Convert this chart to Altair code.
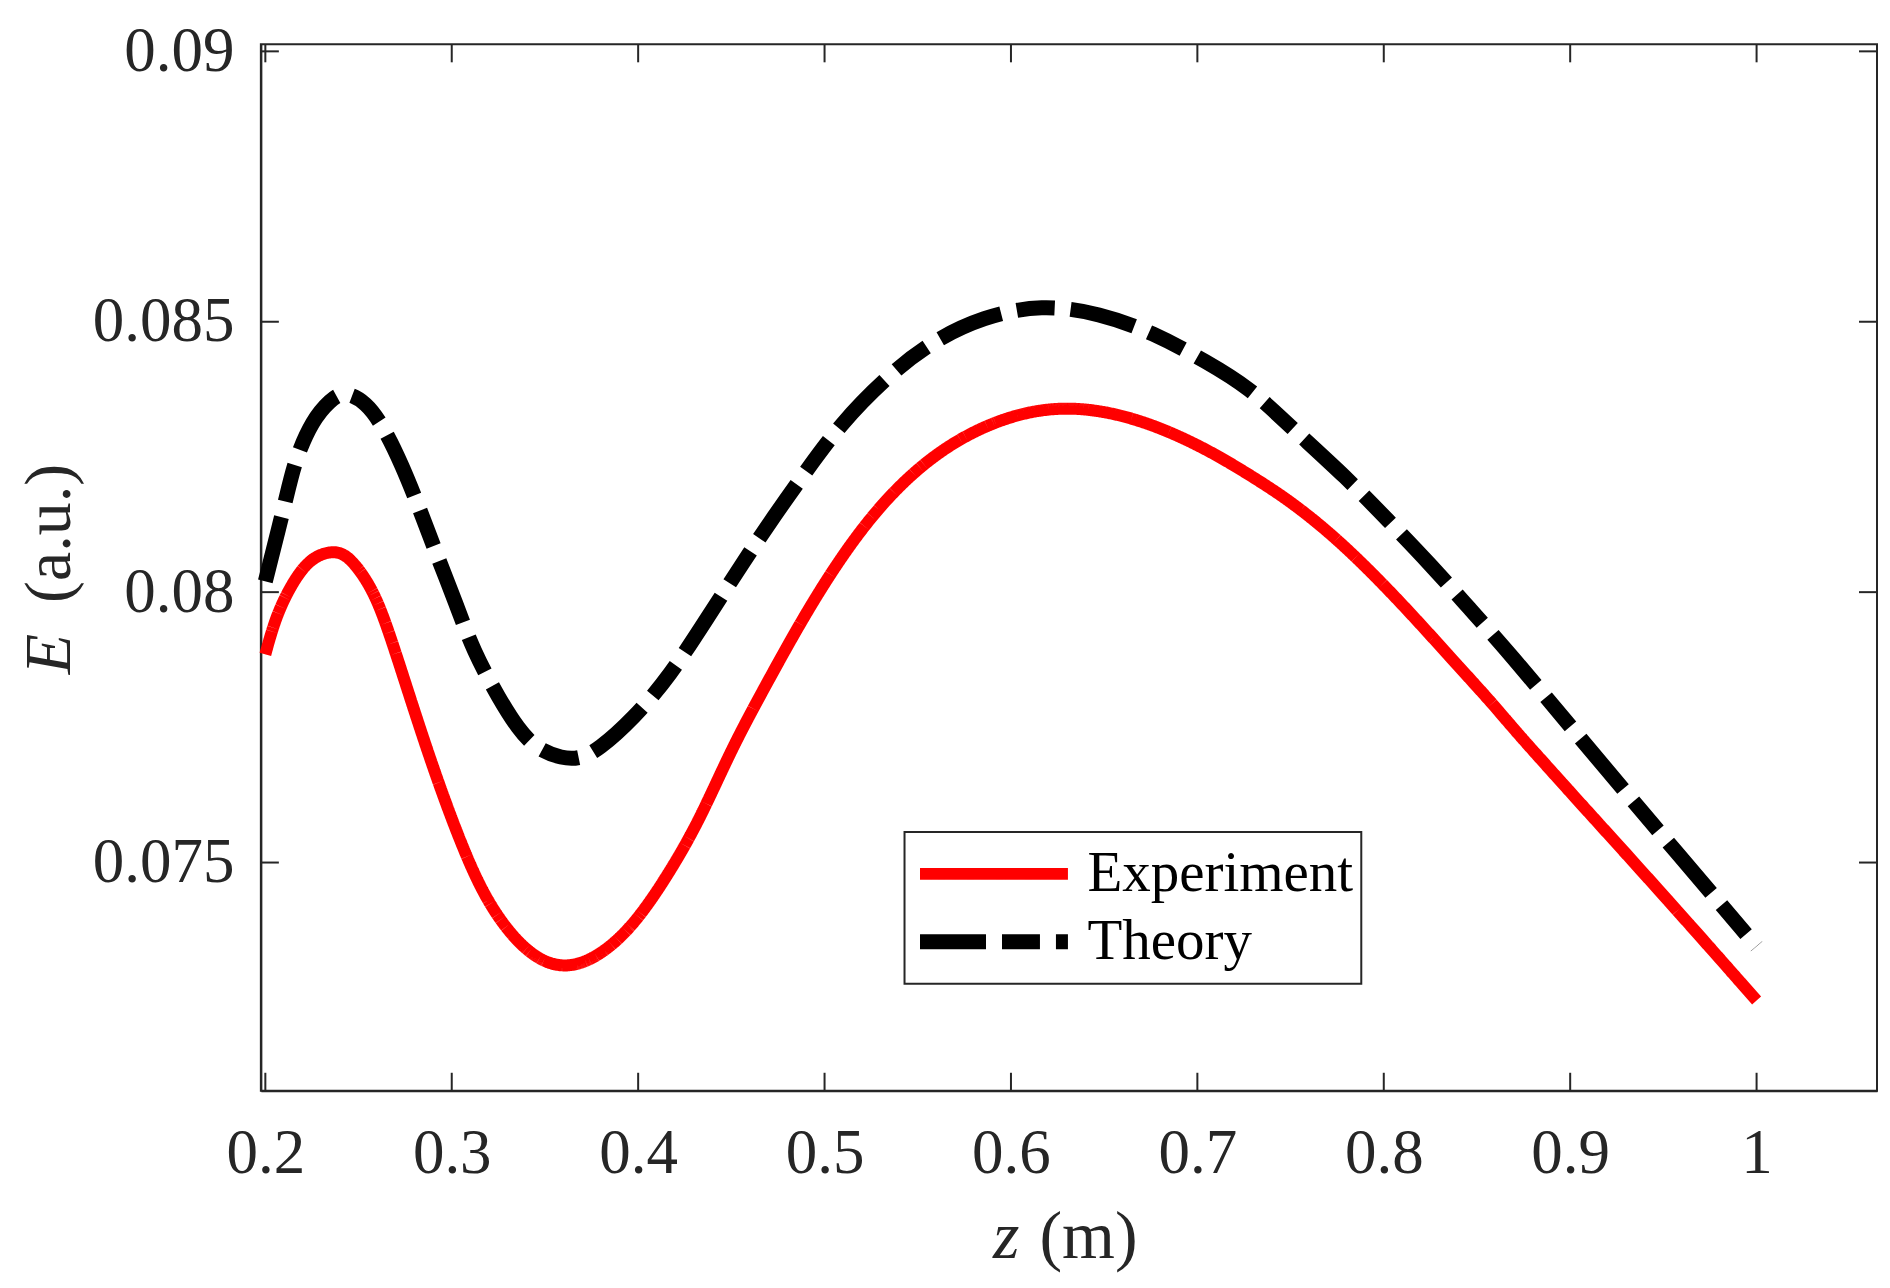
import altair as alt
import pandas as pd

# values
series_names = ["Experiment", "Theory"]

exp_z = [0.200, 0.206, 0.216, 0.225, 0.235, 0.242, 0.249, 0.259, 0.2685, 0.2876,
         0.3067, 0.3211, 0.3403, 0.3594, 0.3785, 0.3977, 0.4168, 0.4332, 0.450, 0.468,
         0.4873, 0.5088, 0.5327, 0.5614, 0.595, 0.6297, 0.6668, 0.7027, 0.7313, 0.7499,
         0.7718, 0.7937, 0.8155, 0.8374, 0.8594, 0.8693, 0.9082, 0.9514, 1.0]
exp_e = [0.07885, 0.07960, 0.08027, 0.08064, 0.08076, 0.08072, 0.08049, 0.07997, 0.07905, 0.07696,
         0.07517, 0.07413, 0.07331, 0.07301, 0.07324, 0.07383, 0.07481, 0.07580, 0.07710, 0.07825,
         0.07946, 0.08066, 0.08174, 0.08264, 0.08324, 0.08347, 0.08324, 0.08270, 0.08210, 0.08168,
         0.08108, 0.08036, 0.07957, 0.07873, 0.07790, 0.07748, 0.07599, 0.07435, 0.07245]

th_z = [0.200, 0.211, 0.2158, 0.2254, 0.2348, 0.2421, 0.254, 0.2637, 0.2732, 0.2828,
        0.2924, 0.302, 0.3114, 0.3259, 0.3355, 0.345, 0.3594, 0.3688, 0.3785, 0.3977,
        0.417, 0.4369, 0.4561, 0.4728, 0.4897, 0.5088, 0.5327, 0.5565, 0.5854, 0.6165,
        0.6476, 0.6763, 0.705, 0.728, 0.7499, 0.7806, 0.8025, 0.8243, 0.8462, 0.868,
        0.901, 0.941, 1.0]
th_e = [0.0802, 0.0817, 0.08244, 0.08319, 0.08355, 0.08372, 0.08352, 0.08304, 0.08236, 0.08154,
        0.08065, 0.07982, 0.07892, 0.07800, 0.07748, 0.07711, 0.07692, 0.07692, 0.07708, 0.07767,
        0.07845, 0.07951, 0.08054, 0.08140, 0.08222, 0.08312, 0.08396, 0.08462, 0.0851, 0.08532,
        0.08516, 0.0848, 0.08426, 0.08378, 0.08306, 0.0821, 0.08132, 0.08054, 0.07969, 0.07885,
        0.07748, 0.07584, 0.07345]

x_ticks = [0.2, 0.3, 0.4, 0.5, 0.6, 0.7, 0.8, 0.9, 1.0]
y_ticks = [0.075, 0.08, 0.085, 0.09]

W, H = 1617, 1047
AX = "#262626"
FONT = "Liberation Serif"

df = pd.concat([
    pd.DataFrame({"z": exp_z, "E": exp_e, "series": series_names[0]}),
    pd.DataFrame({"z": th_z, "E": th_e, "series": series_names[1]}),
])

x_enc = alt.X("z:Q", scale=alt.Scale(domain=[0.1976, 1.0646], nice=False, zero=False),
              axis=alt.Axis(values=x_ticks, format="~g", title=None, labelPadding=32))
y_enc = alt.Y("E:Q", scale=alt.Scale(domain=[0.07078, 0.09013], nice=False, zero=False),
              axis=alt.Axis(values=y_ticks, format="~g", title=None, labelPadding=27))

leg = alt.Legend(orient="none", legendX=644, legendY=788, title=None,
                 symbolType="stroke", symbolSize=148 ** 2, clipHeight=68,
                 symbolStrokeWidth=13, padding=8, rowPadding=0, labelOffset=12,
                 labelLimit=600, strokeColor=AX, fillColor="white",
                 labelFont=FONT, labelFontSize=57, labelColor="black")

lines = alt.Chart(df).mark_line(interpolate="basis").encode(
    x=x_enc,
    y=y_enc,
    color=alt.Color("series:N", scale=alt.Scale(domain=series_names, range=["#ff0000", "#000000"]), legend=leg),
    strokeDash=alt.StrokeDash("series:N", scale=alt.Scale(domain=series_names, range=[[1, 0], [66, 16, 38, 16]]), legend=leg),
    strokeWidth=alt.StrokeWidth("series:N", scale=alt.Scale(domain=series_names, range=[12, 15]), legend=None),
    order="z:Q",
)

# inward ticks on all four sides (MATLAB box style)
xt = alt.Chart(pd.DataFrame({"z": x_ticks})).mark_rule(color=AX, strokeWidth=2)
yt = alt.Chart(pd.DataFrame({"E": y_ticks})).mark_rule(color=AX, strokeWidth=2)
ticks = [
    xt.encode(x=x_enc, y=alt.value(H), y2=alt.value(H - 18)),
    xt.encode(x=x_enc, y=alt.value(0), y2=alt.value(18)),
    yt.encode(y=y_enc, x=alt.value(0), x2=alt.value(18)),
    yt.encode(y=y_enc, x=alt.value(W), x2=alt.value(W - 18)),
]

def label(txt, style, size, **kw):
    return alt.Chart(pd.DataFrame({"t": [txt]})).mark_text(
        font=FONT, fontSize=size, fontStyle=style, color=AX, baseline="alphabetic", **kw
    ).encode(text="t:N")

titles = [
    label("z", "italic", 68, align="right").encode(x=alt.value(759), y=alt.value(1214)),
    label("(m)", "normal", 68, align="left").encode(x=alt.value(779), y=alt.value(1214)),
    label("E", "italic", 66, align="right", angle=270).encode(x=alt.value(-191), y=alt.value(590)),
    label("(a.u.)", "normal", 66, align="left", angle=270).encode(x=alt.value(-191), y=alt.value(559)),
]

chart = alt.layer(lines, *ticks, *titles).properties(
    width=W, height=H,
    autosize=alt.AutoSizeParams(type="none"),
    padding={"left": 253, "top": 36, "right": 5, "bottom": 183},
).configure_view(
    stroke=AX, strokeWidth=2
).configure_axis(
    domainColor=AX, domainWidth=2, ticks=False, tickSize=0, grid=False,
    labelFont=FONT, labelFontSize=63, labelColor=AX,
).configure_legend(
    strokeWidth=2
)

chart.save("out.html", embed_options={"renderer": "svg", "actions": False})
